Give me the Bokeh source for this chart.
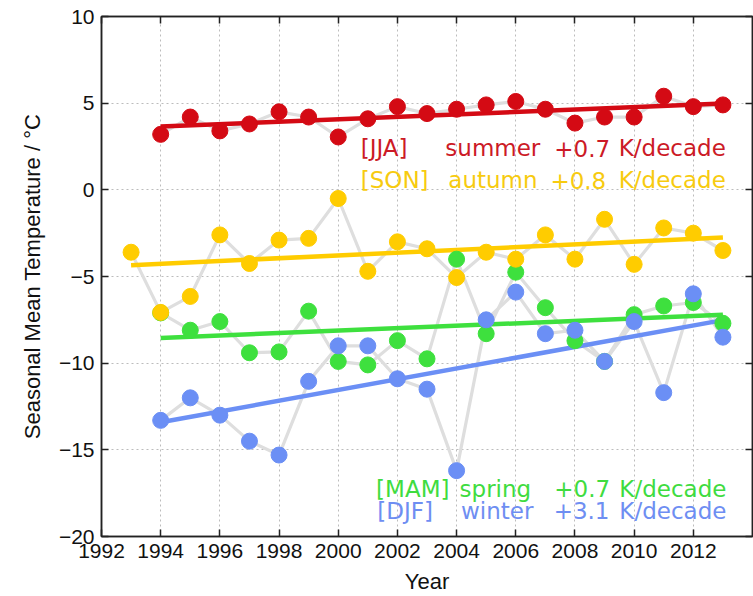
import numpy as np
from bokeh.plotting import figure
from bokeh.models import Range1d, LinearAxis, FixedTicker
from bokeh.core.properties import value
from bokeh.embed import file_html
from bokeh.resources import INLINE

# Seasonal mean temperatures (deg C)
years_son = list(range(1993, 2014))
years = list(range(1994, 2014))

jja = [3.2, 4.2, 3.4, 3.8, 4.5, 4.2, 3.05, 4.1, 4.8, 4.4,
       4.65, 4.9, 5.1, 4.65, 3.85, 4.2, 4.2, 5.4, 4.8, 4.9]
son = [-3.6, -7.07, -6.15, -2.6, -4.25, -2.9, -2.8, -0.5, -4.7, -3.0, -3.4,
       -5.06, -3.6, -4.0, -2.6, -4.0, -1.7, -4.3, -2.2, -2.5, -3.5]
mam = [-7.1, -8.1, -7.6, -9.4, -9.35, -7.0, -9.9, -10.1, -8.7, -9.75,
       -4.0, -8.3, -4.75, -6.8, -8.7, -9.9, -7.2, -6.7, -6.5, -7.7]
djf = [-13.3, -12.0, -13.0, -14.5, -15.3, -11.05, -9.0, -9.0, -10.9, -11.5,
       -16.2, -7.5, -5.9, -8.3, -8.1, -9.9, -7.6, -11.7, -6.0, -8.5]

# Linear trends, K per decade
trend_jja, trend_son, trend_mam, trend_djf = 0.7, 0.8, 0.7, 3.1

season_codes = ["[JJA]", "[SON]", "[MAM]", "[DJF]"]
season_names = ["summer", "autumn", "spring", "winter"]

x_ticks = list(range(1992, 2013, 2))
y_ticks = list(range(-20, 11, 5))

RED, YEL, GRN, BLU = "#d40a14", "#ffcc00", "#3ee03e", "#6b8ff5"
TXT = {"JJA": "#cc1a26", "SON": "#f7cb10", "MAM": "#3fdc3f", "DJF": "#6e8ef2"}
FONT = "Liberation Sans"
AX = "#222222"

p = figure(width=753, height=596, x_range=Range1d(1992, 2014), y_range=Range1d(-20, 10),
           output_backend="svg", toolbar_location=None,
           min_border_left=101, min_border_right=1, min_border_top=16, min_border_bottom=58)
p.outline_line_color = AX
p.outline_line_width = 1.5

# axes
p.xaxis.ticker = FixedTicker(ticks=x_ticks)
p.yaxis.ticker = FixedTicker(ticks=y_ticks)
p.xaxis.axis_label = "Year"
p.yaxis.axis_label = "Seasonal Mean Temperature / °C"
for ax in (p.xaxis[0], p.yaxis[0]):
    ax.major_tick_in = 7
    ax.major_tick_out = 0
    ax.minor_tick_in = 0
    ax.minor_tick_out = 0
    ax.axis_line_color = AX
    ax.axis_line_width = 1.5
    ax.major_tick_line_color = AX
    ax.major_tick_line_width = 1.5
    ax.major_label_text_font = FONT
    ax.major_label_text_font_size = "21px"
    ax.major_label_text_color = "#111111"
    ax.axis_label_text_font = FONT
    ax.axis_label_text_font_size = "22px"
    ax.axis_label_text_font_style = "normal"
    ax.axis_label_text_color = "#111111"
p.xaxis.major_label_standoff = 7
p.xaxis.axis_label_standoff = 8
p.yaxis.major_label_standoff = 7
p.yaxis.axis_label_standoff = 11

# inward ticks on the top and right edges, without labels
for side, ticks in (("above", x_ticks), ("right", y_ticks)):
    ax = LinearAxis(ticker=FixedTicker(ticks=ticks),
                    major_label_overrides={t: "" for t in ticks})
    ax.major_tick_in = 7
    ax.major_tick_out = 0
    ax.minor_tick_in = 0
    ax.minor_tick_out = 0
    ax.major_label_text_font_size = "1px"
    ax.major_label_standoff = 0
    ax.axis_line_color = AX
    ax.axis_line_width = 1.5
    ax.major_tick_line_color = AX
    ax.major_tick_line_width = 1.5
    p.add_layout(ax, side)

p.xgrid.ticker = FixedTicker(ticks=x_ticks)
p.ygrid.ticker = FixedTicker(ticks=y_ticks)
for g in (p.xgrid[0], p.ygrid[0]):
    g.grid_line_color = "#bcbcbc"
    g.grid_line_dash = "2 3"
    g.grid_line_width = 1

series = [
    (years_son, son, YEL, trend_son),
    (years, mam, GRN, trend_mam),
    (years, djf, BLU, trend_djf),
    (years, jja, RED, trend_jja),
]

# connecting lines
for xs, ys, c, t in series:
    p.line(xs, ys, line_color="#dedede", line_width=3.2)

# trend lines through the series mean with the stated slope
for xs, ys, c, t in series:
    xa = np.array(xs, dtype=float)
    ya = np.array(ys, dtype=float)
    xm, ym = xa.mean(), ya.mean()
    ends = np.array([xa[0], xa[-1]])
    p.line(ends, ym + t / 10.0 * (ends - xm), line_color=c, line_width=4.5)

# markers
for xs, ys, c in [(years, mam, GRN), (years, djf, BLU), (years_son, son, YEL), (years, jja, RED)]:
    p.scatter(xs, ys, size=16, fill_color=c, line_color=c)

# annotation text: code, season, trend value, unit
label_rows = [
    ("JJA", 0, trend_jja, 2.4, [2000.76, 2003.62, 2007.30, 2009.48]),
    ("SON", 1, trend_son, 0.55, [2000.76, 2003.72, 2007.17, 2009.48]),
    ("MAM", 2, trend_mam, -17.25, [2001.28, 2004.10, 2007.30, 2009.5]),
    ("DJF", 3, trend_djf, -18.5, [2001.32, 2004.15, 2007.28, 2009.5]),
]
for key, i, t, yy, xs in label_rows:
    parts = [season_codes[i], season_names[i], "+%.1f" % t, "K/decade"]
    p.text(x=xs, y=[yy] * 4, text=parts, text_color=TXT[key],
           text_font=value("DejaVu Sans"), text_font_size="23px",
           text_align="left", text_baseline="middle")

open("out.html", "w").write(file_html(p, INLINE))
